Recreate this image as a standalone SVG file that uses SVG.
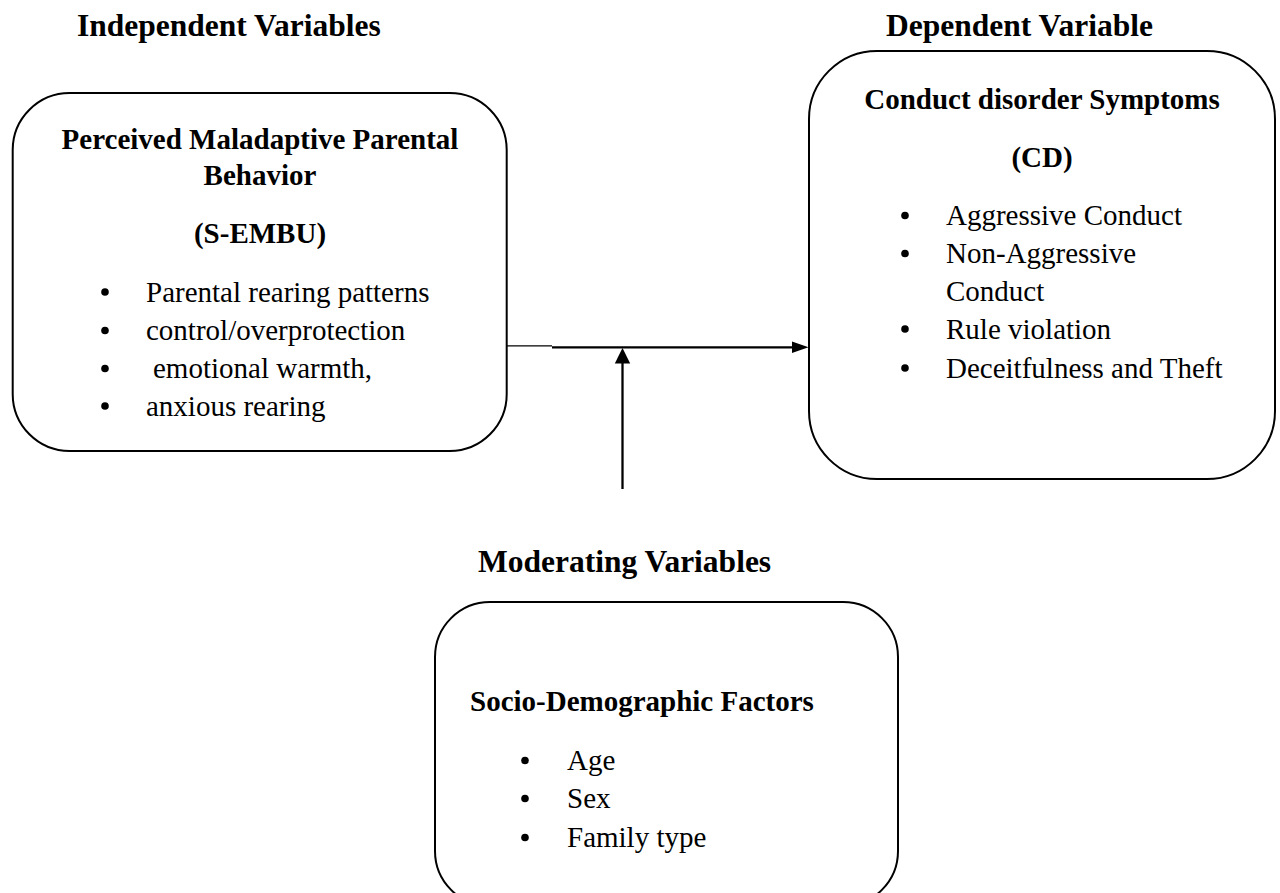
<svg xmlns="http://www.w3.org/2000/svg" width="1280" height="893" viewBox="0 0 1280 893">
<style>
.box{fill:none;stroke:#000;stroke-width:2}
.sec{font-family:"Liberation Serif","Times New Roman",serif;font-weight:bold;font-size:31.5px;fill:#000}
.ttl{font-family:"Liberation Serif","Times New Roman",serif;font-weight:bold;font-size:29px;fill:#000}
.txt{font-family:"Liberation Serif","Times New Roman",serif;font-size:29px;fill:#000}
.mid{text-anchor:middle}
.dot{fill:#000}
.ln{stroke:#000;fill:none}
</style>
<rect width="1280" height="893" fill="#fff"/>
<text class="sec" x="77" y="35.5">Independent Variables</text>
<text class="sec" x="886" y="35.5">Dependent Variable</text>
<text class="sec" x="478" y="572">Moderating Variables</text>

<g id="independent">
<rect class="box" x="12.7" y="93" width="494" height="358" rx="57" ry="57"/>
<text class="ttl mid" x="260" y="148.5">Perceived Maladaptive Parental</text>
<text class="ttl mid" x="260" y="184.5">Behavior</text>
<text class="ttl mid" x="260" y="243">(S-EMBU)</text>
<circle class="dot" cx="105" cy="292" r="3.8"/>
<circle class="dot" cx="105" cy="330.5" r="3.8"/>
<circle class="dot" cx="105" cy="368.5" r="3.8"/>
<circle class="dot" cx="105" cy="406" r="3.8"/>
<text class="txt" x="146" y="301.5">Parental rearing patterns</text>
<text class="txt" x="146" y="340">control/overprotection</text>
<text class="txt" x="153" y="378">emotional warmth,</text>
<text class="txt" x="146" y="415.5">anxious rearing</text>
</g>

<g id="dependent">
<rect class="box" x="809" y="51" width="466" height="428" rx="68" ry="68"/>
<text class="ttl mid" x="1042" y="108.5">Conduct disorder Symptoms</text>
<text class="ttl mid" x="1042" y="166.5">(CD)</text>
<circle class="dot" cx="905" cy="215.5" r="3.8"/>
<circle class="dot" cx="905" cy="253.5" r="3.8"/>
<circle class="dot" cx="905" cy="329" r="3.8"/>
<circle class="dot" cx="905" cy="368" r="3.8"/>
<text class="txt" x="946" y="225">Aggressive Conduct</text>
<text class="txt" x="946" y="263">Non-Aggressive</text>
<text class="txt" x="946" y="300.5">Conduct</text>
<text class="txt" x="946" y="338.5">Rule violation</text>
<text class="txt" x="946" y="377.5">Deceitfulness and Theft</text>
</g>

<g id="moderating">
<rect class="box" x="435" y="602" width="463" height="304" rx="55" ry="55"/>
<text class="ttl" x="470" y="710.5">Socio-Demographic Factors</text>
<circle class="dot" cx="525" cy="760.5" r="3.8"/>
<circle class="dot" cx="525" cy="798.5" r="3.8"/>
<circle class="dot" cx="525" cy="837.5" r="3.8"/>
<text class="txt" x="567" y="770">Age</text>
<text class="txt" x="567" y="808">Sex</text>
<text class="txt" x="567" y="847">Family type</text>
</g>

<g id="connectors">
<line class="ln" x1="507" y1="345.8" x2="552" y2="345.8" stroke-width="1.3"/>
<line class="ln" x1="552" y1="347.3" x2="795" y2="347.3" stroke-width="2.3"/>
<polygon class="dot" points="792,341.5 808.5,347.3 792,353.1"/>
<line class="ln" x1="622.5" y1="489" x2="622.5" y2="362" stroke-width="2.3"/>
<polygon class="dot" points="614.8,363.5 622.5,348 630.2,363.5"/>
</g>
</svg>
